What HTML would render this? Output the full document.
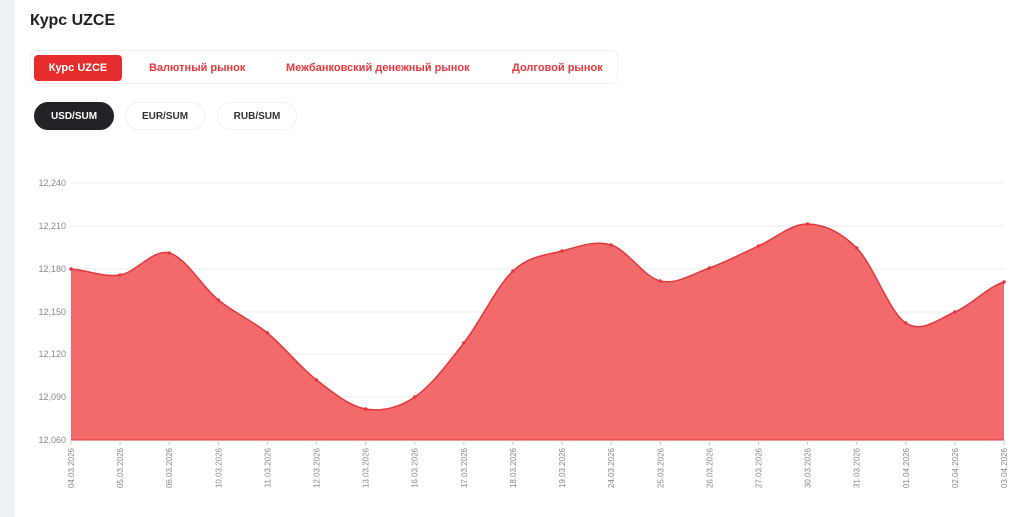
<!DOCTYPE html>
<html><head><meta charset="utf-8"><style>
body{margin:0;width:1024px;height:517px;background:#fff;font-family:"Liberation Sans",sans-serif;overflow:hidden;position:relative}
.strip{position:absolute;left:0;top:0;width:15px;height:517px;background:#eef1f5}
h1{position:absolute;left:30px;top:12px;margin:0;font-size:16px;font-weight:bold;color:#222}
.tabs{position:absolute;left:30px;top:50px;width:588px;height:34px;border:1px solid #f0f0f0;border-radius:6px;box-sizing:border-box}
.tab{position:absolute;top:4px;height:26px;line-height:26px;font-size:11px;font-weight:bold;color:#e8383d}
.active{background:#e52d2d;color:#fff;border-radius:4px;text-align:center}
.pill{position:absolute;top:102px;height:28px;line-height:28px;font-size:10px;font-weight:bold;color:#333;border:1px solid #f0f0f0;border-radius:14px;text-align:center;box-sizing:border-box}
.dark{background:#222327;color:#fff;border-color:#222327}
svg{position:absolute;left:0;top:0}
</style></head><body>
<div class="strip"></div>
<h1>Курс UZCE</h1>
<div class="tabs">
<div class="tab active" style="left:3px;width:88px">Курс UZCE</div>
<div class="tab" style="left:118px">Валютный рынок</div>
<div class="tab" style="left:255px">Межбанковский денежный рынок</div>
<div class="tab" style="left:481px">Долговой рынок</div>
</div>
<div class="pill dark" style="left:34px;width:80px">USD/SUM</div>
<div class="pill" style="left:125px;width:80px">EUR/SUM</div>
<div class="pill" style="left:217px;width:80px">RUB/SUM</div>
<svg id="c" width="1024" height="517"></svg>
<script>
var s=document.getElementById('c'),h='';
var ys=[183,226,269,312,354,397,440],lb=['12,240','12,210','12,180','12,150','12,120','12,090','12,060'];
ys.forEach(function(y,i){if(i<6)h+='<line x1="71" x2="1004" y1="'+y+'" y2="'+y+'" stroke="#eeeeee"/>';h+='<text x="66" y="'+(y+3)+'" font-size="9" fill="#888" text-anchor="end">'+lb[i]+'</text>';});
var d=['04.03','05.03','06.03','10.03','11.03','12.03','13.03','16.03','17.03','18.03','19.03','24.03','25.03','26.03','27.03','30.03','31.03','01.04','02.04','03.04'];
var v=[269,275,253,300,333,380,409,397,343,271,251,245,281,268,246,224,248,323,312,282];
var n=v.length,X=[];for(var i=0;i<n;i++)X.push(71+i*(933/(n-1)));
var p='M'+X[0]+','+v[0];
for(var i=0;i<n-1;i++){var p0=v[Math.max(i-1,0)],p3=v[Math.min(i+2,n-1)],dx=X[1]-X[0];
var c1=v[i]+(v[i+1]-p0)/6,c2=v[i+1]-(p3-v[i])/6;p+=' C'+(X[i]+dx/3)+','+c1+' '+(X[i+1]-dx/3)+','+c2+' '+X[i+1]+','+v[i+1];}
h+='<path d="'+p+' L1004,440 L71,440 Z" fill="#f26a6a"/>';
h+='<path d="'+p+'" fill="none" stroke="#e5383c" stroke-width="1.5"/>';
h+='<line x1="71" x2="1004" y1="440" y2="440" stroke="#e5383c"/>';
for(var i=0;i<n;i++){h+='<circle cx="'+X[i]+'" cy="'+v[i]+'" r="1.8" fill="#e5383c"/>';
h+='<line x1="'+X[i]+'" x2="'+X[i]+'" y1="440" y2="445" stroke="#ccc"/>';
h+='<text transform="translate('+(X[i]+3)+',448) rotate(-90)" font-size="8" fill="#888" text-anchor="end">'+d[i]+'.2026</text>';}
s.innerHTML=h;
</script>
</body></html>
